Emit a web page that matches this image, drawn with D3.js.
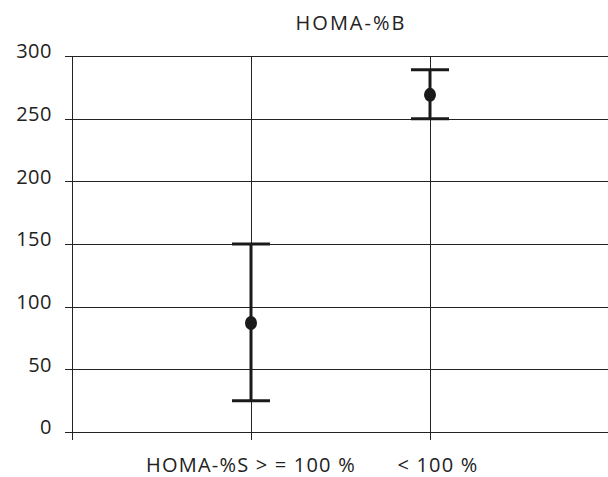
<!DOCTYPE html>
<meta charset="utf-8">
<style>
	body { margin: 0; padding: 0; background: #fff; }
	svg text { font-family: 'Open Sans', 'Noto Sans', sans-serif; fill: #222; }
	.grid line { stroke: #222; stroke-width: 1px; shape-rendering: crispEdges; }
	.bar { stroke: #1a1a1a; stroke-width: 3px; }
	.dot { fill: #1a1a1a; }
</style>
<body>
<svg class="chart"></svg>
<script src="https://d3js.org/d3.v7.min.js"></script>
<script>

var title = "HOMA-%B";
var categories = ["HOMA-%S > = 100 %", "< 100 %"];
var means = [87, 269];
var lows = [25, 250];
var highs = [150, 289];
var yTicks = [0, 50, 100, 150, 200, 250, 300];

var width = 608, height = 477;

var svg = d3.select(".chart")
	.attr("width", width)
	.attr("height", height);

// x goes 0..3, categories sit at 1 and 2
var x = d3.scaleLinear()
	.domain([0, 3])
	.range([72, 609]);

var y = d3.scaleLinear()
	.domain([0, 300])
	.range([432, 56]);

// horizontal grid lines, starting at the tick mark
var grid = svg.append("g").attr("class", "grid");

grid.selectAll(".h")
	.data(yTicks)
  .enter().append("line")
	.attr("x1", 65)
	.attr("x2", width)
	.attr("y1", function(d) { return Math.round(y(d)) + 0.5; })
	.attr("y2", function(d) { return Math.round(y(d)) + 0.5; });

// y axis line and category verticals, run a bit below zero
grid.selectAll(".v")
	.data([0, 1, 2])
  .enter().append("line")
	.attr("x1", function(d) { return Math.round(x(d)) + 0.5; })
	.attr("x2", function(d) { return Math.round(x(d)) + 0.5; })
	.attr("y1", y(300))
	.attr("y2", y(0) + 8);

svg.selectAll(".ylab")
	.data(yTicks)
  .enter().append("text")
	.attr("x", 52)
	.attr("y", function(d) { return y(d) - 3; })
	.attr("text-anchor", "end")
	.attr("dominant-baseline", "middle")
	.style("font-size", "20px")
	.style("letter-spacing", "0.5px")
	.text(function(d) { return d; });

svg.append("text")
	.attr("x", 351)
	.attr("y", 30)
	.attr("text-anchor", "middle")
	.style("font-size", "20px")
	.style("letter-spacing", "2px")
	.text(title);

svg.selectAll(".xlab")
	.data(categories)
  .enter().append("text")
	.attr("x", function(d, i) { return x(i + 1) + (i === 1 ? 8 : 0); })
	.attr("y", 472)
	.attr("text-anchor", "middle")
	.style("font-size", "20px")
	.style("letter-spacing", "1.2px")
	.text(function(d) { return d; });

// error bars
var bars = svg.selectAll(".err")
	.data(categories)
  .enter().append("g");

bars.append("line")
	.attr("class", "bar")
	.attr("x1", function(d, i) { return x(i + 1); })
	.attr("x2", function(d, i) { return x(i + 1); })
	.attr("y1", function(d, i) { return y(lows[i]); })
	.attr("y2", function(d, i) { return y(highs[i]); });

bars.append("line")
	.attr("class", "bar")
	.attr("x1", function(d, i) { return x(i + 1) - 19; })
	.attr("x2", function(d, i) { return x(i + 1) + 19; })
	.attr("y1", function(d, i) { return y(highs[i]); })
	.attr("y2", function(d, i) { return y(highs[i]); });

bars.append("line")
	.attr("class", "bar")
	.attr("x1", function(d, i) { return x(i + 1) - 19; })
	.attr("x2", function(d, i) { return x(i + 1) + 19; })
	.attr("y1", function(d, i) { return y(lows[i]); })
	.attr("y2", function(d, i) { return y(lows[i]); });

bars.append("ellipse")
	.attr("class", "dot")
	.attr("cx", function(d, i) { return x(i + 1); })
	.attr("cy", function(d, i) { return y(means[i]); })
	.attr("rx", 6)
	.attr("ry", 7);

</script>
</body>
